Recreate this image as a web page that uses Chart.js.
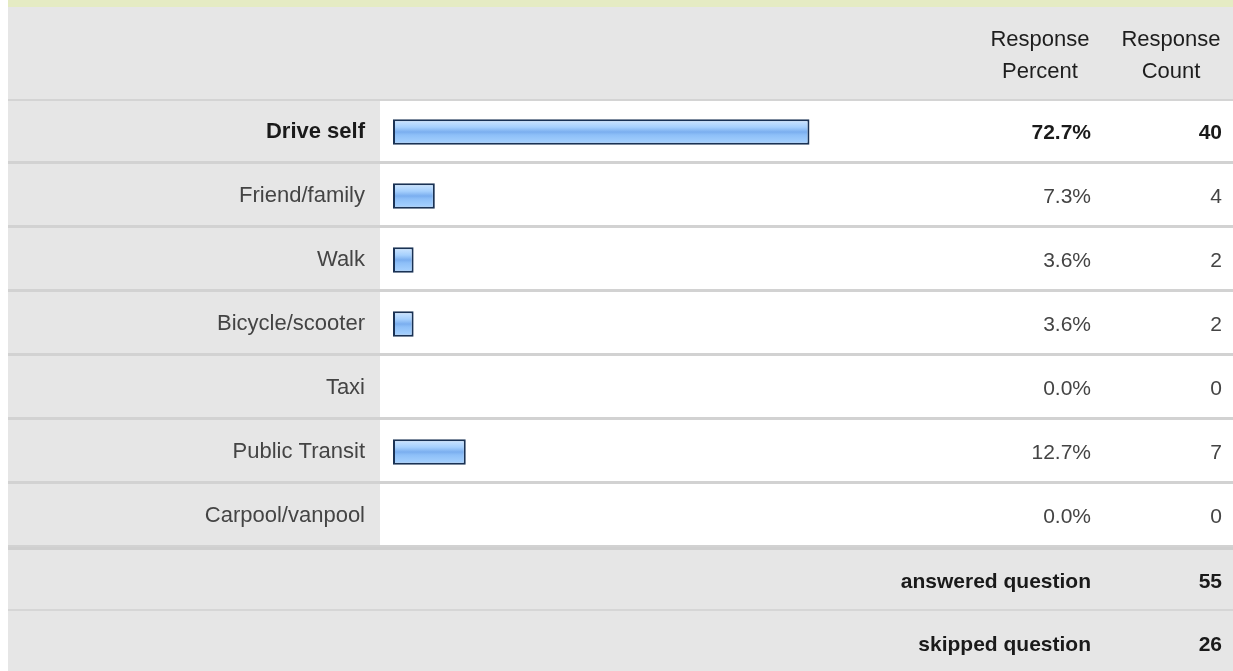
<!DOCTYPE html>
<html lang="en">
<head>
    <meta charset="UTF-8">
    <title>Response Table</title>
    <style>
        html, body {
            margin: 0;
            padding: 0;
            background: #ffffff;
        }
        #wrap {
            width: 1233px;
            height: 671px;
        }
    </style>
</head>
<body>
    <div id="wrap">
        <canvas id="responseChart" width="1233" height="671"></canvas>
    </div>

    <script src="https://cdn.jsdelivr.net/npm/chart.js"></script>
    <script>
        // answers, in the order of the survey
        const categories = ['Drive self', 'Friend/family', 'Walk', 'Bicycle/scooter', 'Taxi', 'Public Transit', 'Carpool/vanpool'];
        const percents = [72.7, 7.3, 3.6, 3.6, 0.0, 12.7, 0.0];
        const counts = [40, 4, 2, 2, 0, 7, 0];
        const headerPercent = ['Response', 'Percent'];
        const headerCount = ['Response', 'Count'];
        const footerLabels = ['answered question', 'skipped question'];
        const footerCounts = [55, 26];

        const FONT = '"Liberation Sans", Arial, sans-serif';
        const topIdx = percents.indexOf(Math.max(...percents));

        // table background, row separators and the text columns on the right
        const tablePlugin = {
            id: 'table',
            beforeDraw(chart) {
                const ctx = chart.ctx;
                const area = chart.chartArea;
                const y = chart.scales.y;
                const rowH = y.getPixelForValue(1) - y.getPixelForValue(0);
                ctx.save();
                ctx.fillStyle = '#ffffff';
                ctx.fillRect(0, 0, chart.width, chart.height);
                ctx.fillStyle = '#e5ebc3';
                ctx.fillRect(8, 0, chart.width - 8, 7);
                ctx.fillStyle = '#e6e6e6';
                ctx.fillRect(8, 7, chart.width - 8, area.top - 7);
                ctx.fillStyle = '#d4d4d4';
                ctx.fillRect(8, area.top - 1, chart.width - 8, 2);

                categories.forEach((c, i) => {
                    const top = y.getPixelForValue(i) - rowH / 2;
                    ctx.fillStyle = '#e6e6e6';
                    ctx.fillRect(8, top + 1, 372, rowH);
                    ctx.fillStyle = '#d2d2d2';
                    ctx.fillRect(8, top + rowH - 3, chart.width - 8, 3);
                });

                // footer
                ctx.fillStyle = '#e6e6e6';
                ctx.fillRect(8, area.bottom, chart.width - 8, chart.height - area.bottom);
                ctx.fillStyle = '#cfcfcf';
                ctx.fillRect(8, area.bottom - 1, chart.width - 8, 3);
                ctx.fillStyle = '#d6d6d6';
                ctx.fillRect(8, area.bottom + 61, chart.width - 8, 2);
                ctx.restore();
            },
            afterDraw(chart) {
                const ctx = chart.ctx;
                const area = chart.chartArea;
                const y = chart.scales.y;
                ctx.save();
                ctx.textBaseline = 'middle';

                ctx.font = '22px ' + FONT;
                ctx.fillStyle = '#1e1e1e';
                ctx.textAlign = 'center';
                headerPercent.forEach((t, i) => ctx.fillText(t, 1040, 40 + i * 32));
                headerCount.forEach((t, i) => ctx.fillText(t, 1171, 40 + i * 32));

                ctx.textAlign = 'right';
                percents.forEach((p, i) => {
                    const bold = i === topIdx;
                    ctx.font = (bold ? 'bold ' : '') + '21px ' + FONT;
                    ctx.fillStyle = bold ? '#1a1a1a' : '#444444';
                    const cy = y.getPixelForValue(i) + 1;
                    ctx.fillText(p.toFixed(1) + '%', 1091, cy);
                    ctx.fillText(String(counts[i]), 1222, cy);
                });

                ctx.font = 'bold 21px ' + FONT;
                ctx.fillStyle = '#1a1a1a';
                footerLabels.forEach((t, i) => {
                    const cy = area.bottom + 34 + i * 63;
                    ctx.fillText(t, 1091, cy);
                    ctx.fillText(String(footerCounts[i]), 1222, cy);
                });
                ctx.restore();
            }
        };

        function barFill(context) {
            const chart = context.chart;
            const y = chart.scales.y;
            if (!y || context.dataIndex === undefined) return '#8fc0f8';
            const c = y.getPixelForValue(context.dataIndex);
            if (!Number.isFinite(c)) return '#8fc0f8';
            const g = chart.ctx.createLinearGradient(0, c - 12, 0, c + 12);
            g.addColorStop(0, '#cfe6ff');
            g.addColorStop(0.3, '#a6d0fd');
            g.addColorStop(0.5, '#7aaeef');
            g.addColorStop(0.62, '#8dbff8');
            g.addColorStop(1, '#a9d3ff');
            return g;
        }

        const chart = new Chart(document.getElementById('responseChart'), {
            type: 'bar',
            data: {
                labels: categories,
                datasets: [{
                    data: percents,
                    backgroundColor: barFill,
                    borderColor: '#1a3254',
                    borderWidth: ctx => (ctx.raw > 0 ? 2 : 0),
                    borderSkipped: false,
                    categoryPercentage: 1,
                    barPercentage: 0.4
                }]
            },
            options: {
                indexAxis: 'y',
                responsive: false,
                animation: false,
                layout: {
                    padding: { top: 100, bottom: 123, left: 8, right: 270 }
                },
                scales: {
                    x: {
                        display: false,
                        min: 0,
                        max: 99.5
                    },
                    y: {
                        grid: { display: false, drawTicks: false },
                        border: { display: false },
                        afterFit: s => { s.width = 385; },
                        ticks: {
                            padding: 28,
                            color: ctx => (ctx.index === topIdx ? '#1a1a1a' : '#444444'),
                            font: ctx => ({
                                family: FONT,
                                size: 22,
                                weight: ctx.index === topIdx ? 'bold' : 'normal'
                            })
                        }
                    }
                },
                plugins: {
                    legend: { display: false },
                    tooltip: { enabled: false }
                }
            },
            plugins: [tablePlugin]
        });
    </script>
</body>
</html>
